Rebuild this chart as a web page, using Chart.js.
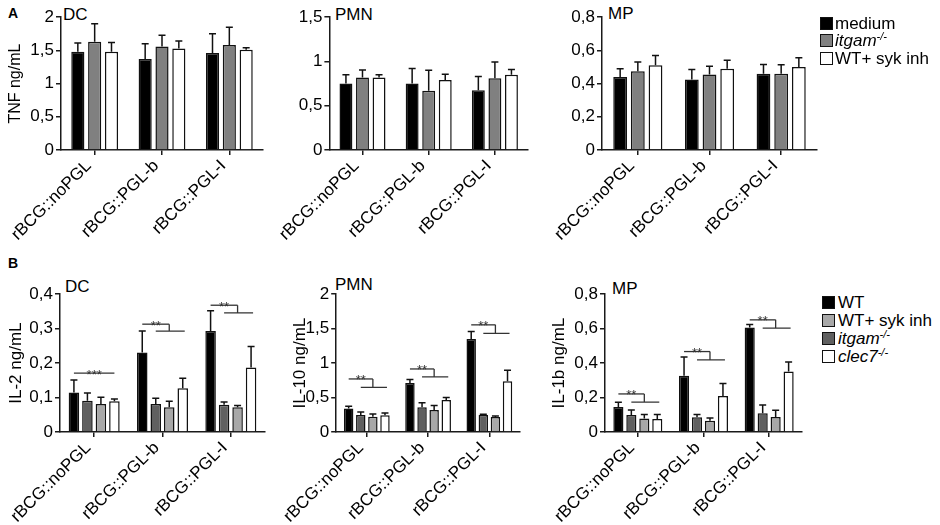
<!DOCTYPE html>
<html><head><meta charset="utf-8">
<script src="https://cdn.jsdelivr.net/npm/chart.js@4.4.1/dist/chart.umd.min.js"></script>
<style>
body{margin:0;background:#fff;width:940px;height:525px;overflow:hidden;position:relative;font-family:"Liberation Sans",Arial,sans-serif;color:#000}
canvas{position:absolute}
.t{position:absolute;font-size:17px;line-height:17px;white-space:nowrap}
.lab{position:absolute;font-weight:bold;font-size:14px;line-height:14px}
.row{position:absolute;height:17px;font-size:17px;line-height:17px;white-space:nowrap}
.sw{position:absolute;left:0;top:2px;width:13px;height:13px;border:1.3px solid #111;box-sizing:border-box}
.row span.tx{position:absolute;top:0}
.sup{font-size:11px;position:relative;top:-6px;font-style:italic}
</style>
</head><body>
<div class="lab" style="left:8px;top:6px">A</div>
<div class="lab" style="left:8px;top:256px">B</div>

<div class="t" style="left:63px;top:6px">DC</div>
<div class="t" style="left:335px;top:6px">PMN</div>
<div class="t" style="left:608px;top:5px">MP</div>
<div class="t" style="left:65px;top:278px">DC</div>
<div class="t" style="left:335px;top:276px">PMN</div>
<div class="t" style="left:612px;top:280px">MP</div>

<canvas id="aDC"></canvas>
<canvas id="aPMN"></canvas>
<canvas id="aMP"></canvas>
<canvas id="bDC"></canvas>
<canvas id="bPMN"></canvas>
<canvas id="bMP"></canvas>

<div class="row" style="left:820px;top:15px"><i class="sw" style="background:#000"></i><span class="tx" style="left:15px">medium</span></div>
<div class="row" style="left:820px;top:32px"><i class="sw" style="background:#808080"></i><span class="tx" style="left:15px"><i>itgam</i><span class="sup">-/-</span></span></div>
<div class="row" style="left:820px;top:50px"><i class="sw" style="background:#fff"></i><span class="tx" style="left:15px">WT+ syk inh</span></div>

<div class="row" style="left:822px;top:294px"><i class="sw" style="background:#000"></i><span class="tx" style="left:16px">WT</span></div>
<div class="row" style="left:822px;top:312px"><i class="sw" style="background:#a8a8a8"></i><span class="tx" style="left:16px">WT+ syk inh</span></div>
<div class="row" style="left:822px;top:330px"><i class="sw" style="background:#606060"></i><span class="tx" style="left:16px"><i>itgam</i><span class="sup">-/-</span></span></div>
<div class="row" style="left:822px;top:348px"><i class="sw" style="background:#fff"></i><span class="tx" style="left:16px"><i>clec7</i><span class="sup">-/-</span></span></div>

<script>
// ---------- data ----------
const categories = ['rBCG::noPGL', 'rBCG::PGL-b', 'rBCG::PGL-I'];

// Panel A : TNF
const aSeriesNames = ['medium', 'itgam-/-', 'WT+ syk inh'];
const aDC_medium = [1.48, 1.37, 1.46];
const aDC_itgam  = [1.63, 1.56, 1.58];
const aDC_syk    = [1.48, 1.53, 1.51];
const aDC_medium_sd = [0.13, 0.23, 0.29];
const aDC_itgam_sd  = [0.27, 0.17, 0.27];
const aDC_syk_sd    = [0.14, 0.11, 0.03];

const aPMN_medium = [0.75, 0.75, 0.675];
const aPMN_itgam  = [0.82, 0.67, 0.81];
const aPMN_syk    = [0.82, 0.79, 0.85];
const aPMN_medium_sd = [0.10, 0.17, 0.155];
const aPMN_itgam_sd  = [0.085, 0.23, 0.185];
const aPMN_syk_sd    = [0.03, 0.065, 0.06];

const aMP_medium = [0.44, 0.425, 0.46];
const aMP_itgam  = [0.475, 0.455, 0.46];
const aMP_syk    = [0.51, 0.49, 0.50];
const aMP_medium_sd = [0.05, 0.06, 0.055];
const aMP_itgam_sd  = [0.055, 0.05, 0.053];
const aMP_syk_sd    = [0.06, 0.05, 0.055];

// Panel B : IL-2 / IL-10 / IL-1b  (bar order: WT, itgam-/-, WT+ syk inh, clec7-/-)
const bSeriesNames = ['WT', 'itgam-/-', 'WT+ syk inh', 'clec7-/-'];
const bDC_wt    = [0.115, 0.231, 0.293];
const bDC_itgam = [0.091, 0.081, 0.079];
const bDC_syk   = [0.081, 0.072, 0.072];
const bDC_clec7 = [0.089, 0.127, 0.187];
const bDC_wt_sd    = [0.036, 0.062, 0.059];
const bDC_itgam_sd = [0.022, 0.017, 0.008];
const bDC_syk_sd   = [0.020, 0.017, 0.005];
const bDC_clec7_sd = [0.007, 0.029, 0.061];
const bDC_sigUpper = [0.171, 0.313, 0.368];
const bDC_sigLower = [null, 0.293, 0.346];
const bDC_sigText  = ['***', '**', '**'];

const bPMN_wt    = [0.34, 0.71, 1.35];
const bPMN_itgam = [0.247, 0.358, 0.247];
const bPMN_syk   = [0.223, 0.32, 0.218];
const bPMN_clec7 = [0.242, 0.465, 0.736];
const bPMN_wt_sd    = [0.035, 0.053, 0.107];
const bPMN_itgam_sd = [0.043, 0.068, 0.010];
const bPMN_syk_sd   = [0.037, 0.063, 0.014];
const bPMN_clec7_sd = [0.034, 0.034, 0.160];
const bPMN_sigUpper = [0.77, 0.915, 1.555];
const bPMN_sigLower = [0.649, 0.80, 1.43];
const bPMN_sigText  = ['**', '**', '**'];

const bMP_wt    = [0.145, 0.326, 0.607];
const bMP_itgam = [0.099, 0.085, 0.109];
const bMP_syk   = [0.078, 0.066, 0.087];
const bMP_clec7 = [0.076, 0.209, 0.351];
const bMP_wt_sd    = [0.027, 0.110, 0.017];
const bMP_itgam_sd = [0.029, 0.016, 0.048];
const bMP_syk_sd   = [0.023, 0.015, 0.039];
const bMP_clec7_sd = [0.025, 0.072, 0.056];
const bMP_sigUpper = [0.221, 0.467, 0.651];
const bMP_sigLower = [0.174, 0.419, 0.603];
const bMP_sigText  = ['**', '**', '**'];

// tick labels
const yTicksA_DC  = ['0', '0,5', '1', '1,5', '2'];
const yTicksA_PMN = ['0', '0,5', '1', '1,5'];
const yTicksA_MP  = ['0', '0,2', '0,4', '0,6', '0,8'];
const yTicksB_DC  = ['0', '0,1', '0,2', '0,3', '0,4'];
const yTicksB_PMN = ['0', '0,5', '1', '1,5', '2'];
const yTicksB_MP  = ['0', '0,2', '0,4', '0,6', '0,8'];

// ---------- styling ----------
const FONT = '"Liberation Sans", Arial, sans-serif';
const colorsA = ['#000000', '#808080', '#ffffff'];
const colorsB = ['#000000', '#606060', '#a8a8a8', '#ffffff'];
const AX = '#1a1a1a';

const errorBars = {
  id: 'errorBars',
  afterDatasetsDraw(chart) {
    const ctx = chart.ctx, ys = chart.scales.y;
    ctx.save();
    ctx.strokeStyle = '#111'; ctx.lineWidth = 1.5;
    chart.data.datasets.forEach((ds, i) => {
      const meta = chart.getDatasetMeta(i);
      meta.data.forEach((bar, j) => {
        const top = ys.getPixelForValue(ds.data[j] + ds.sd[j]);
        ctx.beginPath();
        ctx.moveTo(bar.x, bar.y); ctx.lineTo(bar.x, top);
        ctx.moveTo(bar.x - 3.5, top); ctx.lineTo(bar.x + 3.5, top);
        ctx.stroke();
      });
    });
    ctx.restore();
  }
};

const sigBrackets = {
  id: 'sigBrackets',
  afterDatasetsDraw(chart, args, o) {
    if (!o || !o.upper) return;
    const ctx = chart.ctx, ys = chart.scales.y;
    const metas = chart.data.datasets.map((d, i) => chart.getDatasetMeta(i));
    const last = metas.length - 1;
    ctx.save();
    ctx.strokeStyle = '#333'; ctx.fillStyle = '#333'; ctx.lineWidth = 1.3;
    ctx.font = '13px ' + FONT; ctx.textAlign = 'center'; ctx.textBaseline = 'alphabetic';
    o.upper.forEach((u, k) => {
      const x0 = metas[0].data[k].x, x1 = metas[1].data[k].x, x3 = metas[last].data[k].x;
      const yu = ys.getPixelForValue(u);
      let xe;
      if (o.lower[k] == null) {
        xe = x3;
      } else {
        xe = (x1 + x3) / 2;
        const yl = ys.getPixelForValue(o.lower[k]);
        ctx.beginPath();
        ctx.moveTo(xe, yu); ctx.lineTo(xe, yl);
        ctx.moveTo(x1, yl); ctx.lineTo(x3 + 2, yl);
        ctx.stroke();
      }
      ctx.beginPath(); ctx.moveTo(x0, yu); ctx.lineTo(xe, yu); ctx.stroke();
      ctx.fillText(o.text[k], (x0 + xe) / 2, yu + 5.5);
    });
    ctx.restore();
  }
};

function panel(id, g, series, sds, colors, yMax, yStep, yLabels, yTitle, yTitleSize, catPct, sig) {
  const padTop = 12, padRight = 6;
  const cv = document.getElementById(id);
  const W = g.Wy + (g.R - g.L) + padRight;
  const H = padTop + (g.B - g.T) + g.Hx;
  cv.width = W; cv.height = H;
  cv.style.left = (g.L - g.Wy) + 'px';
  cv.style.top = (g.T - padTop) + 'px';
  cv.style.width = W + 'px'; cv.style.height = H + 'px';
  new Chart(cv, {
    type: 'bar',
    data: {
      labels: categories,
      datasets: series.map((s, i) => ({
        data: s, sd: sds[i], backgroundColor: colors[i], borderColor: '#111',
        borderWidth: 1.5, categoryPercentage: catPct, barPercentage: 0.78
      }))
    },
    options: {
      responsive: false, animation: false, devicePixelRatio: 1,
      layout: { padding: { top: padTop, right: padRight, left: 0, bottom: 0 } },
      plugins: { legend: { display: false }, tooltip: { enabled: false }, title: { display: false },
        sigBrackets: sig || {} },
      scales: {
        x: {
          type: 'category',
          ticks: { minRotation: 45, maxRotation: 45, autoSkip: false, color: '#000', padding: 1,
            labelOffset: -6, font: { family: FONT, size: 17 } },
          grid: { display: true, drawOnChartArea: false, offset: false, tickLength: 5, color: AX, lineWidth: 1.5 },
          border: { display: true, color: AX, width: 1.5 },
          afterFit(s) { s.height = g.Hx; }
        },
        y: {
          min: 0, max: yMax,
          ticks: { stepSize: yStep, autoSkip: false, color: '#000', padding: 2,
            font: { family: FONT, size: 17 }, callback: (v, i) => yLabels[i] },
          grid: { display: true, drawOnChartArea: false, tickLength: 5, color: AX, lineWidth: 1.5 },
          border: { display: true, color: AX, width: 1.5 },
          title: { display: !!yTitle, text: yTitle || '', color: '#000', padding: 0,
            font: { family: FONT, size: yTitleSize } },
          afterFit(s) { s.width = g.Wy; }
        }
      }
    },
    plugins: [errorBars, sigBrackets]
  });
}

panel('aDC', { L: 61, T: 17, B: 150, R: 263, Wy: 55, Hx: 95 },
  [aDC_medium, aDC_itgam, aDC_syk], [aDC_medium_sd, aDC_itgam_sd, aDC_syk_sd],
  colorsA, 2, 0.5, yTicksA_DC, 'TNF ng/mL', 16, 0.75);
panel('aPMN', { L: 329, T: 17, B: 150, R: 528, Wy: 50, Hx: 95 },
  [aPMN_medium, aPMN_itgam, aPMN_syk], [aPMN_medium_sd, aPMN_itgam_sd, aPMN_syk_sd],
  colorsA, 1.5, 0.5, yTicksA_PMN, null, 16, 0.75);
panel('aMP', { L: 602, T: 17, B: 150, R: 817, Wy: 50, Hx: 95 },
  [aMP_medium, aMP_itgam, aMP_syk], [aMP_medium_sd, aMP_itgam_sd, aMP_syk_sd],
  colorsA, 0.8, 0.2, yTicksA_MP, null, 16, 0.74);

panel('bDC', { L: 60, T: 294, B: 432, R: 265, Wy: 54, Hx: 92 },
  [bDC_wt, bDC_itgam, bDC_syk, bDC_clec7], [bDC_wt_sd, bDC_itgam_sd, bDC_syk_sd, bDC_clec7_sd],
  colorsB, 0.4, 0.1, yTicksB_DC, 'IL-2 ng/mL', 17, 0.79,
  { upper: bDC_sigUpper, lower: bDC_sigLower, text: bDC_sigText });
panel('bPMN', { L: 330, T: 294, B: 432, R: 520, Wy: 46, Hx: 92 },
  [bPMN_wt, bPMN_itgam, bPMN_syk, bPMN_clec7], [bPMN_wt_sd, bPMN_itgam_sd, bPMN_syk_sd, bPMN_clec7_sd],
  colorsB, 2, 0.5, yTicksB_PMN, 'IL-10 ng/mL', 17, 0.79,
  { upper: bPMN_sigUpper, lower: bPMN_sigLower, text: bPMN_sigText });
panel('bMP', { L: 605, T: 294, B: 432, R: 802, Wy: 56, Hx: 92 },
  [bMP_wt, bMP_itgam, bMP_syk, bMP_clec7], [bMP_wt_sd, bMP_itgam_sd, bMP_syk_sd, bMP_clec7_sd],
  colorsB, 0.8, 0.2, yTicksB_MP, 'IL-1b ng/mL', 17, 0.79,
  { upper: bMP_sigUpper, lower: bMP_sigLower, text: bMP_sigText });
</script>
</body></html>
